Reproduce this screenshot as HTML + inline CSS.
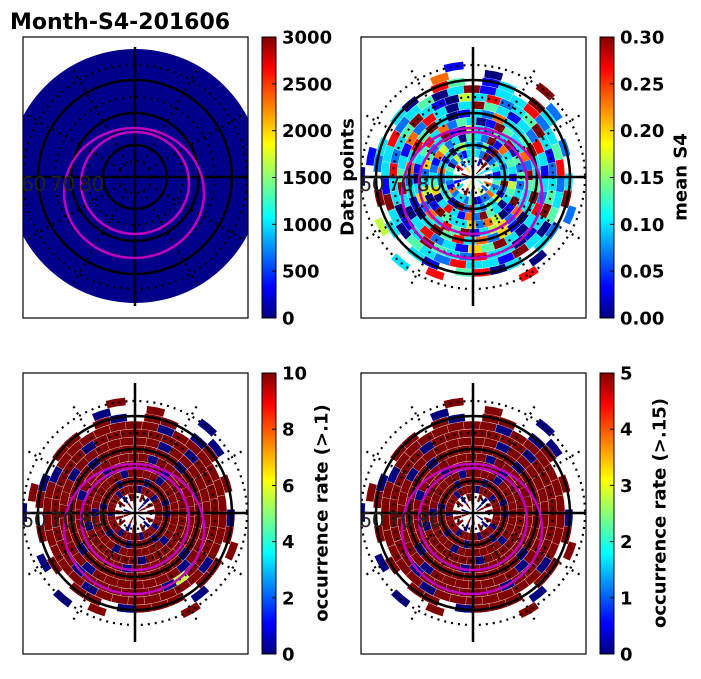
<!DOCTYPE html>
<html><head><meta charset="utf-8"><style>
body{margin:0;background:#fff}
svg text{font-family:"DejaVu Sans","Liberation Sans",sans-serif;font-weight:bold}
</style></head><body>
<svg id="fig" width="701" height="674" viewBox="0 0 701 674" xmlns="http://www.w3.org/2000/svg">
<defs>
<linearGradient id="jet" x1="0" y1="1" x2="0" y2="0">
<stop offset="0" stop-color="#000080"/><stop offset="0.11" stop-color="#0000ff"/>
<stop offset="0.36" stop-color="#00ffff"/><stop offset="0.62" stop-color="#ffff00"/>
<stop offset="0.89" stop-color="#ff0000"/><stop offset="1" stop-color="#800000"/>
</linearGradient>
<clipPath id="c0"><rect x="23" y="37" width="225" height="281"/></clipPath>
<clipPath id="c1"><rect x="361" y="37" width="225" height="281"/></clipPath>
<clipPath id="c2"><rect x="23" y="373" width="225" height="281"/></clipPath>
<clipPath id="c3"><rect x="361" y="373" width="225" height="281"/></clipPath>
</defs>
<text x="10" y="29" font-size="22">Month-S4-201606</text>
</svg>
<script>
// ring radii (polar-grid units, px from pole) and per-ring sector values (0-9 scale, '.' = no data)
const ringRadii = [8,16,24,32,40,48,56,64,72,80,88,96,104,112];
const meanS4Rings = [
"..3.9....1..6...9..2....5..9....4...",
"2.3.9.1..43.2.8..4.1.3..9.3..5.2.7..",
"13420923431252043321723324012273243",
"323291423354031372243410928324351293",
"3437192340325712346038317294303451",
"24193423501932462350194336275019324",
"273349103427384310362738491356273349",
"3943372310394837231039483726103943",
"38231349303827134930382316493038231",
"139432835013943283301394328330139432",
"4328331930432833193043283319304328",
"2.39.31.48.03.32.9.3.31.4803.32.93.",
"..2...0..7.....1...5...8.....0..2...",
"...9....1.......0....3......8......."];
const occ1Rings = [
"..9.0....9..9...0..9....9..9....0...",
"9.9.0.9..99.0.9..9.9.9..0.9..9.0.9..",
"99909990999909999099990999909990999",
"909999099990999909999099909999099990",
"9999099990999999099999099999909999",
"99990999999099999909999999099999999",
"999999099999999099999999909999999999",
"9990999999909999999099999999909999",
"99999099999990999999909999999099999",
"999099999990999999999099999905999999",
"9999909999999099999990999999909999",
"9.90.99.09.99.09.9.9.99.0999.99.90.",
"..0...9..0.....9...0...9.....0..9...",
"...0....9.......0....0......9......."];
const occ15Rings = [
"..9.0....9..9...0..9....9..9....0...",
"9.9.0.9..99.0.9..9.9.9..0.9..9.0.9..",
"99909990999909999099990999909990999",
"909999099990999909999099909999099990",
"9999099990999999099999099999909999",
"99990999999099999909999999099999999",
"999999099999999099999999909999999999",
"9990999999909999999099999999909999",
"99999099999990999999909999999099999",
"999099999990999999999099999909999999",
"9999909999999099999990999999909999",
"9.90.99.09.99.09.9.9.99.0999.99.90.",
"..0...9..0.....9...0...9.....0..9...",
"...0....9.......0....0......9......."];
const cbTicksA = ["0","500","1000","1500","2000","2500","3000"];
const cbTicksB = ["0.00","0.05","0.10","0.15","0.20","0.25","0.30"];
const cbTicksC = ["0","2","4","6","8","10"];
const cbTicksD = ["0","1","2","3","4","5"];
const latLabels = ["60","70","80"];

const NS="http://www.w3.org/2000/svg";
const svg=document.getElementById('fig');
function mk(tag,attrs,parent){const e=document.createElementNS(NS,tag);for(const k in attrs)e.setAttribute(k,attrs[k]);(parent||svg).appendChild(e);return e;}
function jet(v){
  const stops=[[0,[0,0,128]],[0.11,[0,0,255]],[0.36,[0,255,255]],[0.62,[255,255,0]],[0.89,[255,0,0]],[1,[128,0,0]]];
  for(let i=1;i<stops.length;i++){if(v<=stops[i][0]){const a=stops[i-1],b=stops[i];const t=(v-a[0])/(b[0]-a[0]);
    return 'rgb('+a[1].map((c,j)=>Math.round(c+(b[1][j]-c)*t)).join(',')+')';}}
  return 'rgb(128,0,0)';
}
function arc(cx,cy,r0,r1,a0,a1){
  const p=(r,a)=>[cx+r*Math.cos(a),cy-r*Math.sin(a)];
  const [x1,y1]=p(r1,a0),[x2,y2]=p(r1,a1),[x3,y3]=p(r0,a1),[x4,y4]=p(r0,a0);
  return `M${x1},${y1}A${r1},${r1} 0 0 0 ${x2},${y2}L${x3},${y3}A${r0},${r0} 0 0 1 ${x4},${y4}Z`;
}
const panels=[
 {x:23,y:37,cx:135,cy:177,clip:'c0',rings:null,name:'data-points-map'},
 {x:361,y:37,cx:473,cy:177,clip:'c1',rings:meanS4Rings,name:'mean-s4-map'},
 {x:23,y:373,cx:135,cy:513,clip:'c2',rings:occ1Rings,name:'occurrence-rate-01-map'},
 {x:361,y:373,cx:473,cy:513,clip:'c3',rings:occ15Rings,name:'occurrence-rate-015-map'}];
panels.forEach(P=>{
  const g=mk('g',{'clip-path':'url(#'+P.clip+')'});
  
  
  if(!P.rings){
    const d=mk('circle',{cx:P.cx,cy:P.cy-1,r:127,fill:'#00008b'},g);
    
    
  } else {
    P.rings.forEach((s,i)=>{
      const r=ringRadii[i];const n=s.length;
      for(let k=0;k<n;k++){const ch=s[k];if(ch==='.')continue;
        const a0=(k/n)*2*Math.PI+0.02*i, a1=((k+1)/n)*2*Math.PI+0.02*i-0.004;
        const c=mk('path',{d:arc(P.cx,P.cy,r-3.8,r+3.8,a0,a1),fill:jet(+ch/9)},g);
        
        
      }
    });
  }
  [16,48,80,112].forEach(r=>mk('circle',{cx:P.cx,cy:P.cy,r:r,fill:'none',stroke:'#000','stroke-width':2.2,'stroke-dasharray':'2 5'},g));
  for(let a=0;a<360;a+=30){const t=a*Math.PI/180;
    mk('line',{x1:P.cx+16*Math.cos(t),y1:P.cy-16*Math.sin(t),x2:P.cx+128*Math.cos(t),y2:P.cy-128*Math.sin(t),stroke:'#000','stroke-width':2.2,'stroke-dasharray':'2 5'},g);}
  [32,64,97].forEach(r=>mk('circle',{cx:P.cx,cy:P.cy,r:r,fill:'none',stroke:'#000','stroke-width':2.5},g));
  mk('line',{x1:P.x,y1:P.cy,x2:P.x+225,y2:P.cy,stroke:'#000','stroke-width':2.5},g);
  mk('line',{x1:P.cx,y1:P.cy-130,x2:P.cx,y2:P.cy+129,stroke:'#000','stroke-width':2.5},g);
  mk('ellipse',{cx:P.cx,cy:P.cy+6,rx:54,ry:51,fill:'none',stroke:'#c000c0','stroke-width':2.5},g);
  mk('ellipse',{cx:P.cx-1,cy:P.cy+16,rx:70,ry:65,fill:'none',stroke:'#c000c0','stroke-width':2.5},g);
  latLabels.forEach((t,i)=>{const e=mk('text',{x:P.x-2+i*29,y:P.cy+14,'font-size':20,fill:'#222'},g);e.textContent=t;e.style.fontWeight='normal';
    
    });
  const b=mk('rect',{x:P.x,y:P.y,width:225,height:281,fill:'none',stroke:'#000','stroke-width':1.2});
  
  
});
const cbs=[
 {x:262,y:37,ticks:cbTicksA,label:'Data points',lx:348},
 {x:600,y:37,ticks:cbTicksB,label:'mean S4',lx:681},
 {x:262,y:373,ticks:cbTicksC,label:'occurrence rate (>.1)',lx:322},
 {x:600,y:373,ticks:cbTicksD,label:'occurrence rate (>.15)',lx:660}];
cbs.forEach(C=>{
  const r=mk('rect',{x:C.x,y:C.y,width:14,height:281,fill:'url(#jet)',stroke:'#000','stroke-width':1});
  
  
  const n=C.ticks.length-1;
  C.ticks.forEach((t,i)=>{const y=C.y+281-i*281/n;
    mk('line',{x1:C.x+10,y1:y,x2:C.x+14,y2:y,stroke:'#000','stroke-width':1});
    const e=mk('text',{x:C.x+20,y:y+6.5,'font-size':18},svg);e.textContent=t;
    
    });
  const cy=C.y+140;
  const l=mk('text',{x:C.lx,y:cy,'font-size':18,'text-anchor':'middle',transform:`rotate(-90 ${C.lx} ${cy})`,'dominant-baseline':'central'});
  l.textContent=C.label;
  
  
});
</script>
</body></html>
